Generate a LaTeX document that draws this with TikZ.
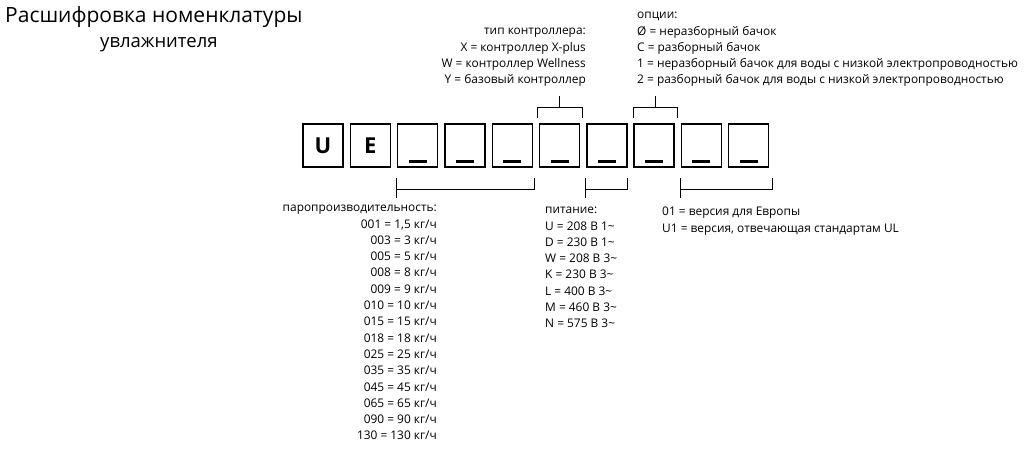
\documentclass[tikz,border=0pt]{standalone}
\usepackage{fontspec}
\setmainfont{Open Sans}
\usetikzlibrary{positioning}
\newcommand{\blank}{\raisebox{-17pt}[0pt][0pt]{\rule{18pt}{2.2pt}}}
\tikzset{
  cell/.style={draw=black,line width=1.4pt,minimum width=40pt,minimum height=43pt,inner sep=0pt,font=\fontsize{22}{22}\selectfont\bfseries},
  lbl/.style={inner sep=0pt,font=\fontsize{11.9}{16.3}\selectfont},
  brk/.style={draw=black,line width=0.7pt}
}
\begin{document}
\begin{tikzpicture}[x=1pt,y=-1pt]
\useasboundingbox (0,0) rectangle (1024,461);
% title
\node[anchor=west,inner sep=0pt,font=\fontsize{21}{21}\selectfont] (title1) at (5,17) {Расшифровка номенклатуры};
\node[anchor=west,inner sep=0pt,font=\fontsize{18.5}{18.5}\selectfont] (title2) at (100,45) {увлажнителя};
% cells
\foreach \i/\t in {0/U,1/E,2/\blank,3/\blank,4/\blank,5/\blank,6/\blank,7/\blank,8/\blank,9/\blank}{
  \node[cell] (c\i) at (323+47.3*\i,145.5) {\t};
}
% brackets above
\draw[brk] (537,118) -- (537,107) -- (582,107) -- (582,118);
\draw[brk] (559.5,107) -- (559.5,96);
\draw[brk] (633,118) -- (633,107) -- (677,107) -- (677,118);
\draw[brk] (655,107) -- (655,96);
% brackets below
\draw[brk] (396,178) -- (396,189) -- (534,189) -- (534,178);
\draw[brk] (396,189) -- (396,198);
\draw[brk] (585,178) -- (585,189) -- (627,189) -- (627,178);
\draw[brk] (585,189) -- (585,198);
\draw[brk] (680,178) -- (680,189) -- (772,189) -- (772,178);
\draw[brk] (680,189) -- (680,198);
% texts
\node[lbl,anchor=north east,align=right] (ctrl) at (586,28) {тип контроллера:\\X = контроллер X-plus\\W = контроллер Wellness\\Y = базовый контроллер};
\node[lbl,anchor=north west,align=left] (opt) at (637,12) {опции:\\Ø = неразборный бачок\\C = разборный бачок\\1 = неразборный бачок для воды с низкой электропроводностью\\2 = разборный бачок для воды с низкой электропроводностью};
\node[lbl,anchor=north east,align=right] (cap) at (437,205) {паропроизводительность:\\001 = 1,5 кг/ч\\003 = 3 кг/ч\\005 = 5 кг/ч\\008 = 8 кг/ч\\009 = 9 кг/ч\\010 = 10 кг/ч\\015 = 15 кг/ч\\018 = 18 кг/ч\\025 = 25 кг/ч\\035 = 35 кг/ч\\045 = 45 кг/ч\\065 = 65 кг/ч\\090 = 90 кг/ч\\130 = 130 кг/ч};
\node[lbl,anchor=north west,align=left] (pow) at (545,207) {питание:\\U = 208 В 1\textasciitilde\\D = 230 В 1\textasciitilde\\W = 208 В 3\textasciitilde\\K = 230 В 3\textasciitilde\\L = 400 В 3\textasciitilde\\M = 460 В 3\textasciitilde\\N = 575 В 3\textasciitilde};
\node[lbl,anchor=north west,align=left] (ver) at (662,207) {01 = версия для Европы\\U1 = версия, отвечающая стандартам UL};
\end{tikzpicture}
\end{document}
